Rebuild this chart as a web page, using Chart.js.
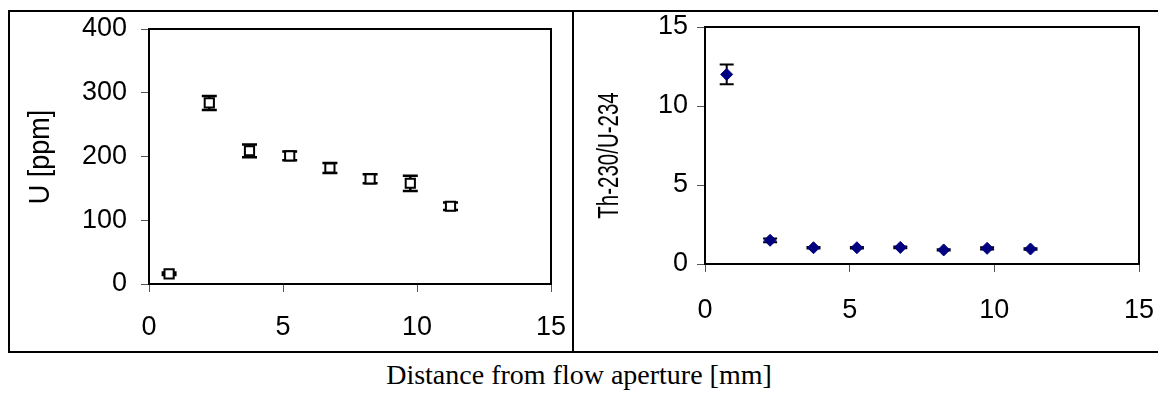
<!DOCTYPE html>
<html><head><meta charset="utf-8">
<script src="https://cdn.jsdelivr.net/npm/chart.js@4.4.1/dist/chart.umd.min.js"></script>
<style>
html,body{margin:0;padding:0;background:#fff;width:1158px;height:407px;overflow:hidden;position:relative}
.box{position:absolute;border:2px solid #000;box-sizing:border-box}
canvas{position:absolute}
#xt{position:absolute;left:0;width:1158px;text-align:center;font-family:"Liberation Serif","Times New Roman",serif;font-size:28px;top:359px;color:#000;line-height:32px}
</style></head><body>
<div class="box" style="left:8px;top:10px;width:566px;height:343px"></div>
<div class="box" style="left:572px;top:10px;width:700px;height:343px"></div>
<canvas id="c1" width="562" height="339" style="left:10px;top:12px"></canvas>
<canvas id="c2" width="583" height="339" style="left:575px;top:12px"></canvas>
<div id="xt"></div>
<script>
const distance = [0.75, 2.25, 3.75, 5.25, 6.75, 8.25, 9.75, 11.25];
const uppm = [16, 284, 209, 201, 182, 165, 158, 122];
const uppmErr = [2, 11, 10, 7, 8, 7, 12, 6];
const thRatio = [12.0, 1.5, 1.03, 1.03, 1.05, 0.89, 0.99, 0.95];
const thRatioErr = [0.62, 0.12, 0.05, 0.05, 0.05, 0.04, 0.07, 0.05];
const xTicks = [0, 5, 10, 15];
const uTicks = [0, 100, 200, 300, 400];
const thTicks = [0, 5, 10, 15];
const xTitle = 'Distance from flow aperture [mm]';
const uTitle = 'U [ppm]';
const thTitle = 'Th-230/U-234';

document.getElementById('xt').textContent = xTitle;

const FONT = '"Liberation Sans", Arial, sans-serif';

const errorBars = {
  id: 'errorBars',
  beforeDatasetsDraw(chart, args, opts) {
    const ctx = chart.ctx;
    const xs = chart.scales.x, ys = chart.scales.y;
    chart.data.datasets.forEach(ds => {
      const errs = ds.errors; if (!errs) return;
      ctx.save();
      ctx.strokeStyle = '#000';
      ctx.lineWidth = opts.lineWidth;
      ds.data.forEach((p, i) => {
        const x = xs.getPixelForValue(p.x);
        const yTop = ys.getPixelForValue(p.y + errs[i]);
        const yBot = ys.getPixelForValue(p.y - errs[i]);
        ctx.beginPath();
        ctx.moveTo(x, yBot); ctx.lineTo(x, yTop);
        ctx.moveTo(x - opts.cap, yBot); ctx.lineTo(x + opts.cap, yBot);
        ctx.moveTo(x - opts.cap, yTop); ctx.lineTo(x + opts.cap, yTop);
        ctx.stroke();
      });
      ctx.restore();
    });
  }
};

const frame = {
  id: 'frame',
  beforeDatasetsDraw(chart) {
    const {ctx, chartArea: a} = chart;
    ctx.save();
    ctx.strokeStyle = '#000';
    ctx.lineWidth = 2;
    ctx.beginPath();
    ctx.moveTo(a.left, a.top); ctx.lineTo(a.right, a.top); ctx.lineTo(a.right, a.bottom);
    ctx.stroke();
    ctx.restore();
  }
};

const yTitlePlugin = {
  id: 'yTitle',
  afterDraw(chart, args, o) {
    const ctx = chart.ctx;
    ctx.save();
    ctx.translate(o.x, o.y);
    ctx.rotate(-Math.PI / 2);
    ctx.scale(1, o.stretch);
    ctx.font = o.size + 'px ' + FONT;
    ctx.fillStyle = '#000';
    ctx.textAlign = 'center';
    ctx.textBaseline = 'alphabetic';
    ctx.fillText(o.text, 0, 0);
    ctx.restore();
  }
};

function makeChart(id, cfg) {
  return new Chart(document.getElementById(id), {
    type: 'scatter',
    data: {
      datasets: [{
        data: distance.map((d, i) => ({x: d, y: cfg.values[i]})),
        errors: cfg.errors,
        pointStyle: cfg.pointStyle,
        pointRadius: cfg.radius,
        pointBorderWidth: cfg.borderWidth,
        pointBorderColor: cfg.border,
        pointBackgroundColor: cfg.fill,
        showLine: false
      }]
    },
    options: {
      responsive: false,
      animation: false,
      events: [],
      layout: {padding: {top: cfg.padTop, right: cfg.padRight, left: 0, bottom: 0}},
      plugins: {
        legend: {display: false},
        tooltip: {enabled: false},
        errorBars: {lineWidth: cfg.errLine, cap: cfg.cap},
        yTitle: cfg.title
      },
      scales: {
        x: {
          type: 'linear', min: 0, max: 15,
          afterBuildTicks: s => { s.ticks = xTicks.map(v => ({value: v})); },
          afterFit: s => { s.height = cfg.xHeight; s.paddingLeft = 0; s.paddingRight = 0; },
          ticks: {font: {family: FONT, size: 27}, color: '#000', padding: cfg.xPad, maxRotation: 0},
          grid: {display: true, drawOnChartArea: false, drawTicks: true, tickLength: 8, color: '#555', lineWidth: 1},
          border: {display: true, color: '#000', width: 2}
        },
        y: {
          type: 'linear', min: cfg.yTicks[0], max: cfg.yTicks[cfg.yTicks.length - 1],
          afterBuildTicks: s => { s.ticks = cfg.yTicks.map(v => ({value: v})); },
          afterFit: s => { s.width = cfg.yWidth; s.paddingTop = 0; s.paddingBottom = 0; },
          ticks: {font: {family: FONT, size: 27}, color: '#000', padding: cfg.yPad},
          grid: {display: true, drawOnChartArea: false, drawTicks: true, tickLength: 8, color: '#555', lineWidth: 1},
          border: {display: true, color: '#000', width: 2}
        }
      }
    },
    plugins: [frame, errorBars, yTitlePlugin]
  });
}

makeChart('c1', {
  values: uppm, errors: uppmErr, yTicks: uTicks,
  pointStyle: 'rect', radius: 6.5, borderWidth: 2, border: '#000', fill: '#fff',
  errLine: 2.5, cap: 7.5,
  padTop: 17, padRight: 21, xHeight: 67, yWidth: 139, xPad: 19, yPad: 14,
  title: {text: uTitle, x: 38.7, y: 145, size: 27, stretch: 1.12}
});

makeChart('c2', {
  values: thRatio, errors: thRatioErr, yTicks: thTicks,
  pointStyle: 'rectRot', radius: 6, borderWidth: 1, border: '#000080', fill: '#000080',
  errLine: 2, cap: 7,
  padTop: 15, padRight: 19, xHeight: 87, yWidth: 130, xPad: 22, yPad: 9,
  title: {text: thTitle, x: 43, y: 143.5, size: 20.5, stretch: 1.45}
});
</script>
</body></html>
